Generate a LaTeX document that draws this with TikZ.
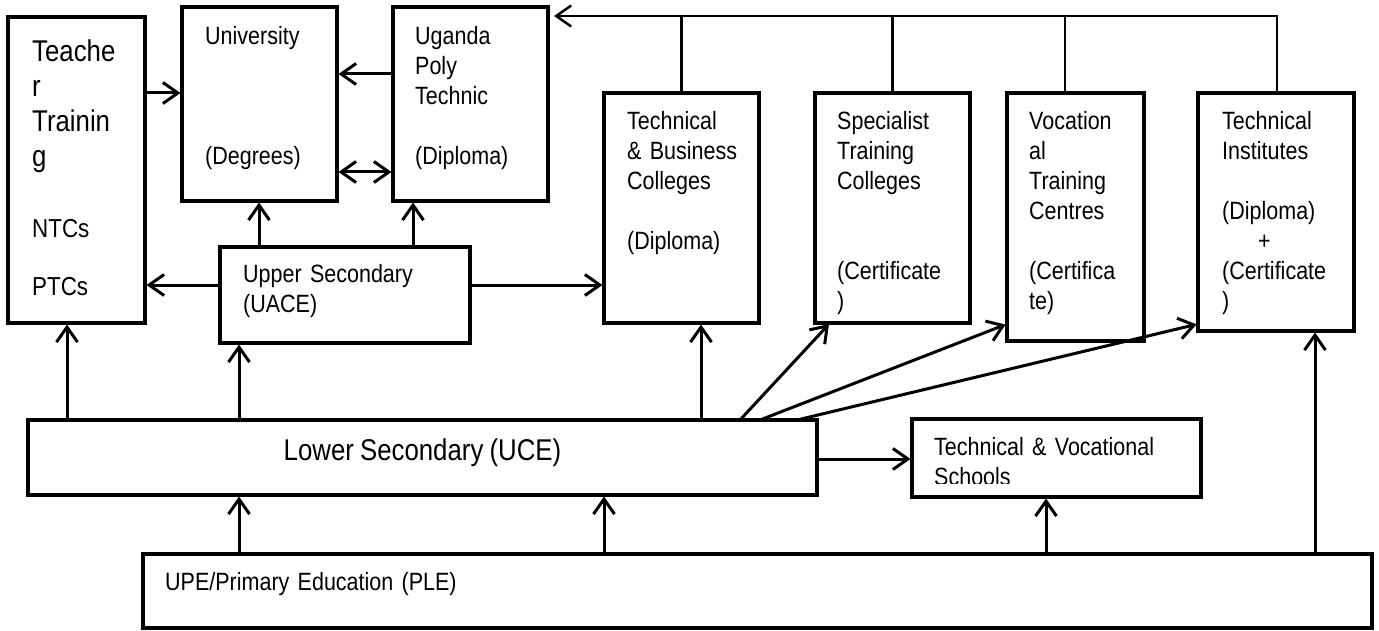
\documentclass[tikz,border=0pt]{standalone}
\usepackage{fontspec}
\setmainfont{Liberation Sans}[FakeStretch=0.86, WordSpace=0.86]
\usetikzlibrary{arrows.meta}

\begin{document}
\begin{tikzpicture}[x=1pt, y=-1pt,
    box/.style={draw, line width=3.5pt, anchor=north west, outer sep=0pt, inner sep=0pt},
    txt/.style={anchor=base west, inner sep=0pt, align=left, text width=500pt,
        font=\fontsize{25pt}{30pt}\selectfont},
    arr/.style={line width=3pt, -{Straight Barb[length=15pt,width=21pt]}, shorten >=1.5pt},
    level/.style={line width=2.5pt}]
\useasboundingbox (0,0) rectangle (1379,631);
% boxes
\node[box, minimum width=137pt, minimum height=306pt] (teacher) at (8,17) {};
\node[box, minimum width=155pt, minimum height=194pt] (univ) at (182,7) {};
\node[box, minimum width=155pt, minimum height=194pt] (poly) at (393,7) {};
\node[box, minimum width=250pt, minimum height=96pt] (upper) at (220,247) {};
\node[box, minimum width=155pt, minimum height=230pt] (techbus) at (604,93) {};
\node[box, minimum width=155pt, minimum height=230pt] (special) at (815,93) {};
\node[box, minimum width=137pt, minimum height=248pt] (vocat) at (1007,93) {};
\node[box, minimum width=156pt, minimum height=238pt] (techinst) at (1198,93) {};
\node[box, minimum width=789pt, minimum height=75pt] (lower) at (28,420) {};
\node[box, minimum width=289pt, minimum height=78pt] (tvs) at (912,419) {};
\node[box, minimum width=1229pt, minimum height=74pt] (upe) at (143,554) {};
% texts
\node[txt, font=\fontsize{30pt}{35pt}\selectfont] (teachertxt) at ([shift={(24,45)}]teacher.north west) {Teache\\r\\Trainin\\g};
\node[txt, font=\fontsize{26pt}{30pt}\selectfont] (teachersub) at ([shift={(24,221)}]teacher.north west) {NTCs\\[28pt]PTCs};
\node[txt] (univtxt) at ([shift={(23,38)}]univ.north west) {University\\[90pt](Degrees)};
\node[txt] (polytxt) at ([shift={(22,38)}]poly.north west) {Uganda\\Poly\\Technic\\[30pt](Diploma)};
\node[txt] (uppertxt) at ([shift={(23,36)}]upper.north west) {Upper Secondary\\(UACE)};
\node[txt] (techbustxt) at ([shift={(23,37)}]techbus.north west) {Technical\\\& Business\\Colleges\\[30pt](Diploma)};
\node[txt] (specialtxt) at ([shift={(22,37)}]special.north west) {Specialist\\Training\\Colleges\\[60pt](Certificate\\)};
\node[txt] (vocattxt) at ([shift={(22,37)}]vocat.north west) {Vocation\\al\\Training\\Centres\\[30pt](Certifica\\te)};
\node[txt] (techinsttxt) at ([shift={(24,37)}]techinst.north west) {Technical\\Institutes\\[30pt](Diploma)\\\hspace*{36pt}+\\(Certificate\\)};
\node[font=\fontsize{30pt}{36pt}\selectfont, anchor=base, inner sep=0pt] (lowertxt) at ([yshift=-2.5pt]lower.center) {Lower Secondary (UCE)};
\node[txt] (upetxt) at ([shift={(22,36)}]upe.north west) {UPE/Primary Education (PLE)};
\begin{scope}
  \clip (tvs.north west) rectangle ([yshift=14pt]tvs.south east);
  \node[txt] (tvstxt) at ([shift={(22,36)}]tvs.north west) {Technical \& Vocational\\Schools};
\end{scope}
% upper level
\draw[arr] (teacher.east |- 0,93) -- (univ.west |- 0,93);
\draw[arr] (poly.west |- 0,74) -- (univ.east |- 0,74);
\draw[arr, {Straight Barb[length=15pt,width=21pt]}-{Straight Barb[length=15pt,width=21pt]}, shorten <=1.5pt] (univ.east |- 0,172) -- (poly.west |- 0,172);
\draw[arr] (upper.north -| 259,0) -- (univ.south -| 259,0);
\draw[arr] (upper.north -| 413,0) -- (poly.south -| 413,0);
\draw[arr] (upper.west |- 0,285) -- (teacher.east |- 0,285);
\draw[arr] (upper.east |- 0,285) -- (techbus.west |- 0,285);
% top line back to the polytechnic
\coordinate (bus) at (1277,16);
\draw[arr, line width=2.5pt, shorten >=6pt] (techinst.north -| bus) -- (bus) -- (poly.east |- bus);
\foreach \b in {techbus, special}
    \draw[level] (\b.north) -- (\b.north |- bus);
\draw[level] (vocat.north -| 1065,0) -- (bus -| 1065,0);
% from lower secondary
\draw[arr] (lower.north -| 67,0) -- (teacher.south -| 67,0);
\draw[arr] (lower.north -| 239,0) -- (upper.south -| 239,0);
\draw[arr] (lower.north -| 701,0) -- (techbus.south -| 701,0);
\draw[arr] (lower.north -| 740,0) -- ([xshift=15pt]special.south west);
\draw[arr] (lower.north -| 760,0) -- ([yshift=17pt]vocat.south west);
\draw[arr] (lower.north -| 797,0) -- ([yshift=7pt]techinst.south west);
\draw[arr] (lower.east |- 0,459) -- (tvs.west |- 0,459);
% from primary
\draw[arr] (upe.north -| 239,0) -- (lower.south -| 239,0);
\draw[arr] (upe.north -| 604,0) -- (lower.south -| 604,0);
\draw[arr] (upe.north -| 1046,0) -- (tvs.south -| 1046,0);
\draw[arr] (upe.north -| 1315,0) -- (techinst.south -| 1315,0);
\end{tikzpicture}
\end{document}
